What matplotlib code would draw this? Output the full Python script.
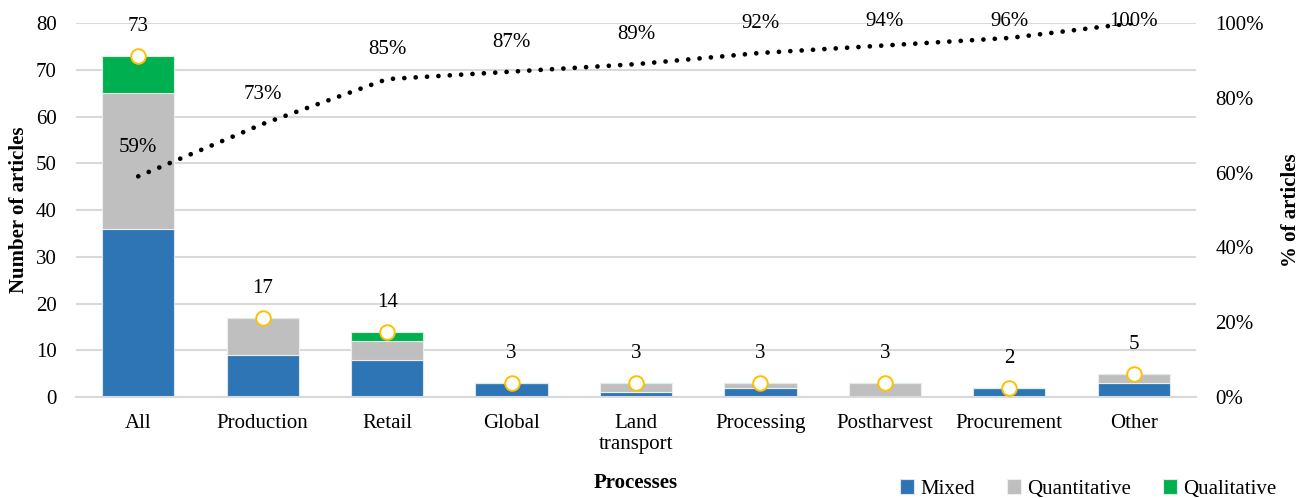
import matplotlib.pyplot as plt
import numpy as np
from matplotlib.ticker import PercentFormatter

plt.rcParams['font.family'] = ['Liberation Serif', 'DejaVu Serif']

categories = ["All", "Production", "Retail", "Global", "Land\ntransport",
              "Processing", "Postharvest", "Procurement", "Other"]
mixed = [36, 9, 8, 3, 1, 2, 0, 2, 3]
quantitative = [29, 8, 4, 0, 2, 1, 3, 0, 2]
qualitative = [8, 0, 2, 0, 0, 0, 0, 0, 0]
totals = [73, 17, 14, 3, 3, 3, 3, 2, 5]
cumulative = [0.59, 0.73, 0.85, 0.87, 0.89, 0.92, 0.94, 0.96, 1.00]

C_MIXED = "#2E75B6"
C_QUANT = "#BFBFBF"
C_QUAL = "#00B050"
C_GRID = "#D9D9D9"
FS = 15

fig = plt.figure(figsize=(13.04, 4.98), dpi=100)
ax = fig.add_axes([0.0583, 0.2028, 0.8589, 0.751])
ax2 = ax.twinx()

x = np.arange(len(categories))
w = 0.58
mixed = np.array(mixed)
quantitative = np.array(quantitative)
qualitative = np.array(qualitative)

ax.bar(x, mixed, w, color=C_MIXED, edgecolor="#DDE6F0", linewidth=0.8,
       label="Mixed", zorder=2)
ax.bar(x, quantitative, w, bottom=mixed, color=C_QUANT, edgecolor="#EEEEEE",
       linewidth=0.8, label="Quantitative", zorder=2)
ax.bar(x, qualitative, w, bottom=mixed + quantitative, color=C_QUAL,
       edgecolor="#DDEEDD", linewidth=0.8, label="Qualitative", zorder=2)

ax.plot(x, totals, linestyle="none", marker="o", markersize=10.5,
        markerfacecolor="white", markeredgecolor="#FFC000",
        markeredgewidth=1.4, zorder=4)
for xi, t in zip(x, totals):
    ax.annotate(str(t), (xi, t), xytext=(0, 21), textcoords="offset points",
                ha="center", va="center", fontsize=FS)

ax.set_ylim(0, 80)
ax.set_yticks(range(0, 81, 10))
ax.set_xlim(-0.5, len(categories) - 0.5)
ax.set_xticks(x)
ax.set_xticklabels(categories, fontsize=FS)
ax.tick_params(axis="both", length=0, labelsize=FS)
ax.tick_params(axis="x", pad=12)
ax.tick_params(axis="y", pad=14)
ax.grid(axis="y", color=C_GRID, linewidth=1.5, zorder=0)
ax.set_axisbelow(True)
for s in ["top", "left", "right"]:
    ax.spines[s].set_visible(False)
ax.spines["bottom"].set_color(C_GRID)
ax.spines["bottom"].set_linewidth(1.5)
ax.set_ylabel("Number of articles", fontsize=FS, fontweight="bold", labelpad=5)
ax.set_xlabel("Processes", fontsize=FS, fontweight="bold", labelpad=13)

ax2.plot(x, cumulative, color="black", linewidth=3.4,
         linestyle=(0, (0.01, 2.4)), dash_capstyle="round", zorder=3)
for xi, p in zip(x, cumulative):
    ax2.text(xi, min(p + 0.078, 1.005), f"{p:.0%}", ha="center", va="center",
             fontsize=FS)
ax2.set_ylim(0, 1)
ax2.set_yticks(np.arange(0, 1.01, 0.2))
ax2.yaxis.set_major_formatter(PercentFormatter(1.0, decimals=0))
ax2.tick_params(axis="y", length=0, labelsize=FS, pad=14)
for s in ax2.spines.values():
    s.set_visible(False)
ax2.set_ylabel("% of articles", fontsize=FS, fontweight="bold", labelpad=12)

fig.legend(loc="center right", bbox_to_anchor=(0.993, 0.018), ncol=3,
           frameon=False, fontsize=FS, handlelength=0.65, handleheight=0.7,
           handletextpad=0.3, columnspacing=1.55)

fig.savefig("out.png", dpi=100)
